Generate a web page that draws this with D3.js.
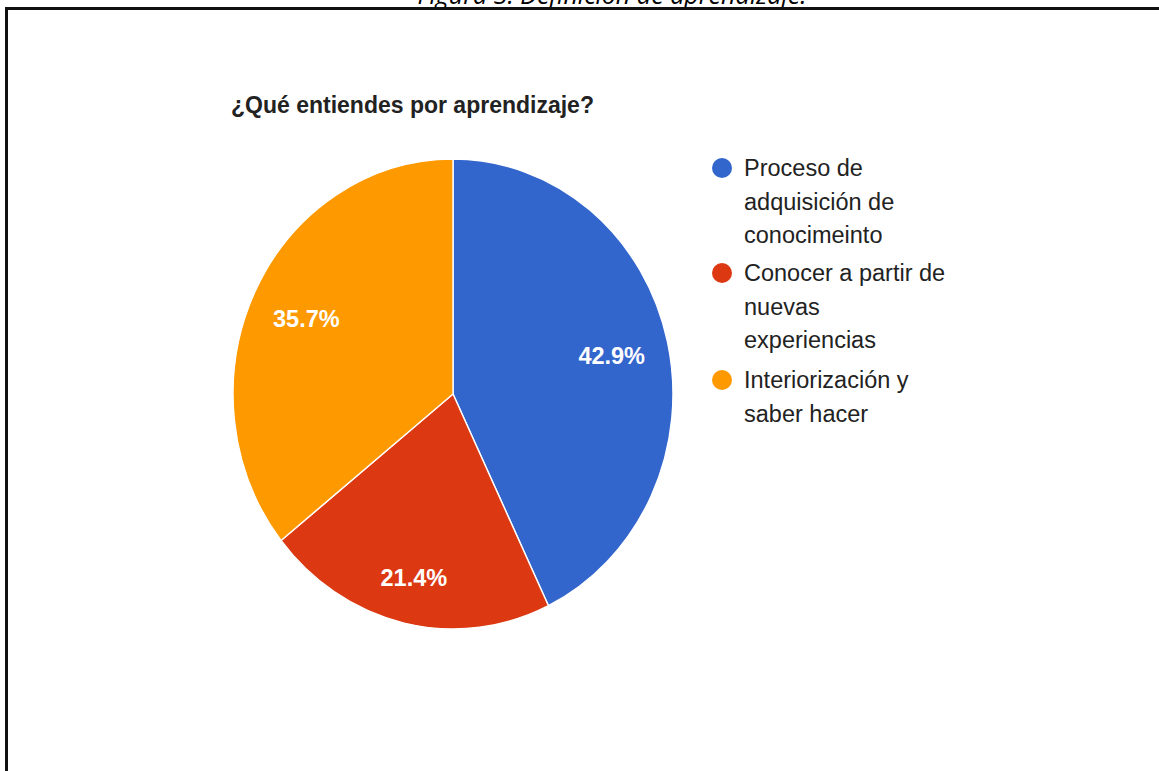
<!DOCTYPE html>
<html>
<head>
<meta charset="utf-8">
<script src="https://cdn.jsdelivr.net/npm/d3@7"></script>
<style>
body { margin: 0; background: #fff; }
svg { display: block; }
</style>
</head>
<body>
<svg id="chart" width="1159" height="771"></svg>
<script>
// data
var categories = ['Proceso de adquisición de conocimeinto', 'Conocer a partir de nuevas experiencias', 'Interiorización y saber hacer'];
var legendLines = [['Proceso de', 'adquisición de', 'conocimeinto'], ['Conocer a partir de', 'nuevas', 'experiencias'], ['Interiorización y', 'saber hacer']];
var counts = [6, 3, 5];
var colors = ['#3366cc', '#dc3912', '#ff9900'];

var svg = d3.select('#chart');
var squish = 0.936;
var cx = 453, cy = 394, r = 235;

// caption, cut off by the page top
svg.append('text')
    .attr('x', 612)
    .attr('y', 4)
    .attr('text-anchor', 'middle')
    .style('font-family', '"Open Sans", "Noto Sans", sans-serif')
    .style('font-style', 'italic')
    .style('font-size', '25px')
    .style('fill', '#000')
    .text('Figura 3. Definición de aprendizaje.');

// frame
svg.append('path')
    .attr('d', 'M6.5,780 L6.5,8.5 L1170,8.5')
    .attr('fill', 'none')
    .attr('stroke', '#111')
    .attr('stroke-width', 3);

var g = svg.append('g')
    .attr('transform', 'translate(' + [cx, cy] + ') scale(' + squish + ',1)');

var total = d3.sum(counts);
var pie = d3.pie().sort(null).value(function (d) { return d; });
var arcs = pie(counts);
var arc = d3.arc().innerRadius(0).outerRadius(r);

g.selectAll('.slice')
    .data(arcs)
    .enter()
    .append('path')
    .attr('class', 'slice')
    .attr('d', arc)
    .attr('fill', function (d, i) { return colors[i]; })
    .attr('stroke', '#fff')
    .attr('stroke-width', 1.5);

// labels sit a bit further out on narrow slices
function labelPos(d) {
    var share = d.value / total;
    var lr = r * (share < 0.25 ? 0.8 : 0.74);
    var c = d3.arc().innerRadius(lr).outerRadius(lr).centroid(d);
    return [cx + c[0] * squish, cy + c[1]];
}

svg.selectAll('.pct')
    .data(arcs)
    .enter()
    .append('text')
    .attr('class', 'pct')
    .attr('transform', function (d) { return 'translate(' + labelPos(d) + ')'; })
    .attr('dy', '0.36em')
    .attr('text-anchor', 'middle')
    .style('font-family', '"Liberation Sans", Arial, sans-serif')
    .style('font-size', '23.5px')
    .style('font-weight', 'bold')
    .style('fill', '#fff')
    .text(function (d) { return (d.value / total * 100).toFixed(1) + '%'; });

// title
svg.append('text')
    .attr('x', 231)
    .attr('y', 113)
    .style('font-family', '"Liberation Sans", Arial, sans-serif')
    .style('font-size', '23px')
    .style('font-weight', 'bold')
    .style('fill', '#222')
    .text('¿Qué entiendes por aprendizaje?');

// legend
var legendTop = [168, 273, 380];
var lineH = 33.5;
var leg = svg.append('g')
    .selectAll('.legend')
    .data(categories)
    .enter()
    .append('g')
    .attr('class', 'legend')
    .attr('transform', function (d, i) { return 'translate(' + [722, legendTop[i]] + ')'; });

leg.append('circle')
    .attr('r', 10)
    .attr('fill', function (d, i) { return colors[i]; });

leg.each(function (d, i) {
    var t = d3.select(this).append('text')
        .attr('transform', 'translate(22,8)')
        .style('font-family', '"Liberation Sans", Arial, sans-serif')
        .style('font-size', '23.5px')
        .style('fill', '#222');
    legendLines[i].forEach(function (line, j) {
        t.append('tspan')
            .attr('x', 0)
            .attr('y', j * lineH)
            .text(line);
    });
});
</script>
</body>
</html>
